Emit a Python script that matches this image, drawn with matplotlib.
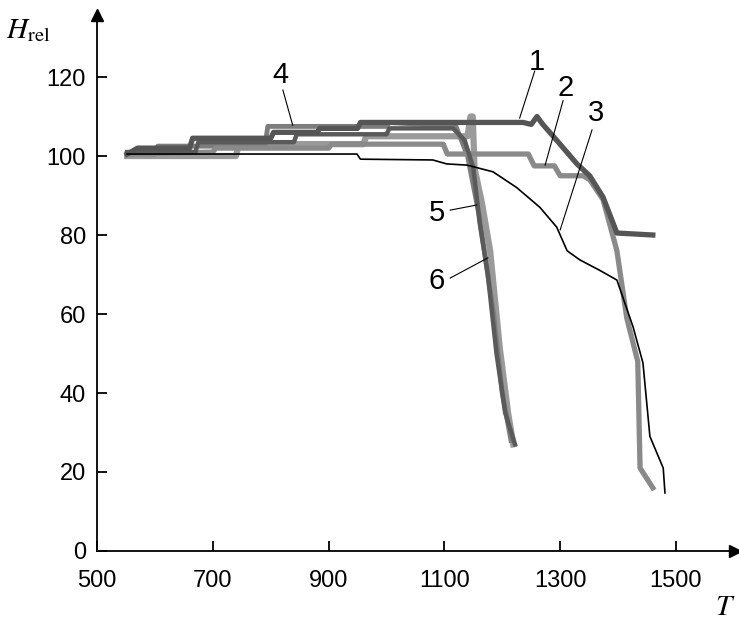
import matplotlib
matplotlib.use("Agg")
import matplotlib.pyplot as plt

plt.rcParams['font.family'] = ['Liberation Sans', 'DejaVu Sans']
plt.rcParams['mathtext.fontset'] = 'stix'

# curves (T, H_rel)
t1 = [552, 570, 660, 665, 800, 805, 880, 885, 950, 955, 1236, 1250, 1260, 1270, 1288, 1329, 1351, 1374, 1398, 1460]
h1 = [100.5, 102, 102, 104.5, 104.5, 106, 106, 107, 107, 108.5, 108.5, 108, 110, 108, 105, 98, 95, 89.6, 80.5, 80]

t2 = [552, 700, 705, 900, 905, 1098, 1105, 1245, 1255, 1290, 1300, 1340, 1351, 1374, 1398, 1415, 1434, 1438, 1460]
h2 = [100.5, 101, 102, 102, 103, 103, 100.5, 100.5, 97.5, 97.5, 95, 95, 94, 89, 76, 59, 48, 21, 16]

t3 = [552, 949, 955, 1080, 1104, 1139, 1184, 1225, 1265, 1294, 1312, 1334, 1369, 1398, 1426, 1443, 1455, 1478, 1481]
h3 = [100.5, 100.5, 99.2, 99, 98, 97.7, 96, 92, 87, 82, 76, 73.7, 71, 68.6, 56.7, 47.6, 29, 21, 14.7]

t4 = [552, 600, 605, 790, 795, 1000, 1005, 1120, 1140, 1160, 1185, 1200, 1215]
h4 = [100.5, 100.5, 102.5, 102.5, 107.5, 107.5, 108.5, 107.5, 100, 85, 60, 40, 28]

t5 = [552, 670, 675, 840, 845, 1000, 1005, 1115, 1135, 1150, 1161, 1175, 1190, 1205, 1222]
h5 = [101, 101, 103.5, 103.5, 105.5, 105.5, 107, 107, 104, 97, 83, 70, 50, 35, 27]

t6 = [552, 740, 745, 960, 965, 1140, 1145, 1149, 1152, 1165, 1179, 1196, 1210, 1219]
h6 = [100, 100, 103, 103, 105, 105, 110, 110, 97, 88, 76, 51, 35, 27]

labels = ['1', '2', '3', '4', '5', '6']
label_xy = [(1260, 123.8), (1310, 117.2), (1362, 110.9), (816, 120.5), (1087, 85.6), (1087, 68.4)]
leader_from = [(1256, 121.5), (1305, 114), (1355, 106.6), (821, 116.7), (1110, 86.3), (1110, 69.1)]
leader_to = [(1230, 109.6), (1274, 97.7), (1300, 81.3), (838, 107.8), (1156, 87.6), (1175, 74.2)]

fig = plt.figure(figsize=(7.39, 6.2), dpi=100)
ax = fig.add_axes([0.1313, 0.1113, 0.8633, 0.8645])

ax.plot(t6, h6, color='#9a9a9a', lw=4.5, solid_joinstyle='round')
ax.plot(t4, h4, color='#7d7d7d', lw=3.5, solid_joinstyle='round')
ax.plot(t2, h2, color='#8a8a8a', lw=3.8, solid_joinstyle='round')
ax.plot(t5, h5, color='#5a5a5a', lw=3.2, solid_joinstyle='round')
ax.plot(t1, h1, color='#555555', lw=3.8, solid_joinstyle='round')
ax.plot(t3, h3, color='black', lw=1.2)

for lab, xy, a, b in zip(labels, label_xy, leader_from, leader_to):
    ax.text(xy[0], xy[1], lab, fontsize=21, ha='center', va='center')
    ax.plot([a[0], b[0]], [a[1], b[1]], color='black', lw=0.8)

ax.set_xlim(500, 1602)
ax.set_ylim(0, 135.7)
ax.set_xticks([500, 700, 900, 1100, 1300, 1500])
ax.set_yticks([0, 20, 40, 60, 80, 100, 120])
ax.tick_params(direction='in', length=7, width=1.3, labelsize=17, pad=8)
ax.tick_params(axis='x', pad=14)

ax.spines['top'].set_visible(False)
ax.spines['right'].set_visible(False)
ax.spines['left'].set_linewidth(1.3)
ax.spines['bottom'].set_linewidth(1.3)
ax.plot(1, 0, '>k', ms=9, transform=ax.transAxes, clip_on=False)
ax.plot(0, 1, '^k', ms=9, transform=ax.transAxes, clip_on=False)

ax.text(-0.108, 0.972, r'$H_{\mathrm{rel}}$', transform=ax.transAxes, fontsize=21, ha='center', va='center')
ax.text(0.985, -0.104, r'$T$', transform=ax.transAxes, fontsize=21, ha='center', va='center')

fig.savefig('out.png', dpi=100)
